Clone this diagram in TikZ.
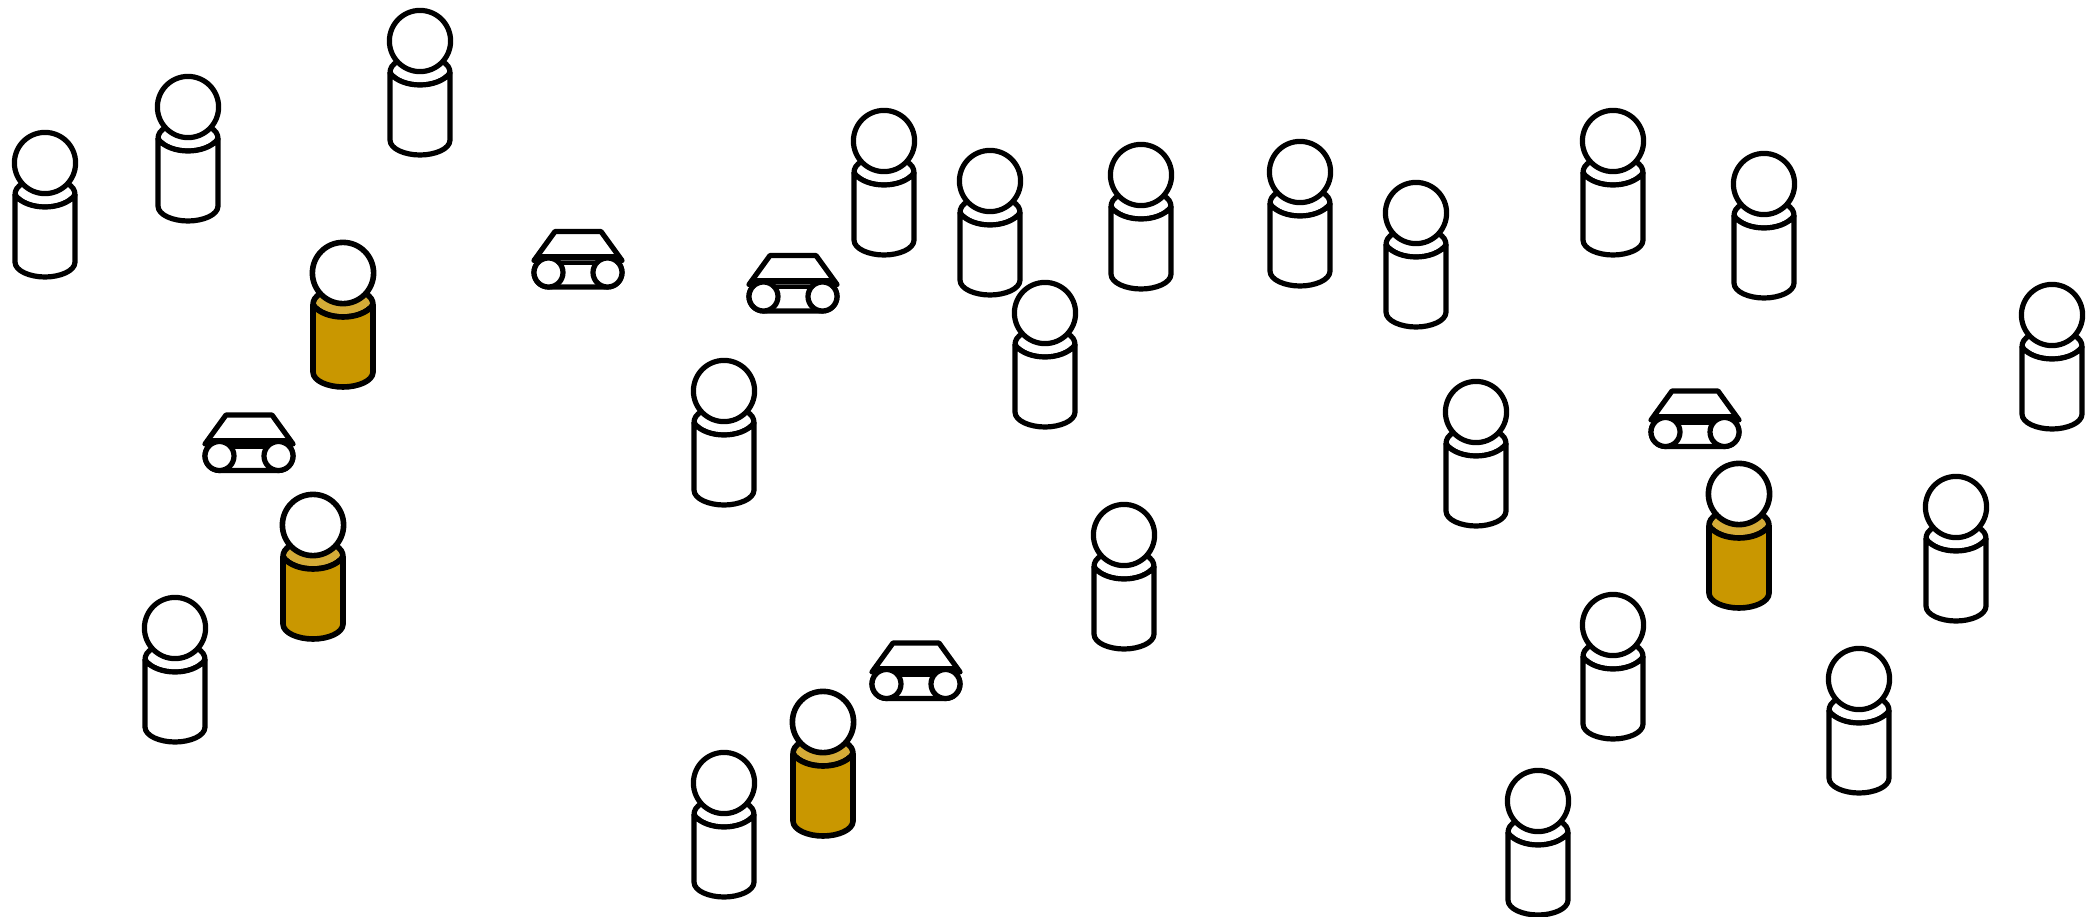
\documentclass[tikz,border=0pt]{standalone}
\definecolor{lidgold}{HTML}{D4AB37}
\definecolor{bodygold}{HTML}{C99700}
\tikzset{
  figline/.style={line width=5.2pt,draw=black,line join=round,line cap=round},
  goldline/.style={figline,line width=5.6pt},
  person/.pic={
    \path[pic actions,fill=lidc] (-30,32) .. controls (-30,27) and (-28,24) .. (-22,20) -- (22,20) .. controls (28,24) and (30,27) .. (30,32) .. controls (24,40) and (12,44) .. (0,44) .. controls (-12,44) and (-24,40) .. (-30,32) -- cycle;
    \path[pic actions,fill=bodyc] (-30,32) .. controls (-24,40) and (-12,44) .. (0,44) .. controls (12,44) and (24,40) .. (30,32) -- (30,99) .. controls (30,108) and (15,114) .. (0,114) .. controls (-15,114) and (-30,108) .. (-30,99) -- cycle;
    \path[pic actions,fill=white] (0,0) circle[radius=30.6];
  },
  vehicle/.pic={
    \path[figline,fill=white] (-44,-12) -- (-23,-41) -- (23,-41) -- (44,-12);
    \path[figline] (-40,-15.5) -- (40,-15.5);
    \path[figline,fill=white] (-29.5,-14.5) -- (29.5,-14.5) arc[start angle=-90,end angle=90,radius=14.5] -- (-29.5,14.5) arc[start angle=90,end angle=270,radius=14.5] -- cycle;
    \path[figline,line width=4.5pt] (-29.5,-9.5) -- (29.5,-9.5);
    \path[figline,fill=white] (-29.5,0) circle[radius=14.5];
    \path[figline,fill=white] (29.5,0) circle[radius=14.5];
  }
}
\begin{document}
\begin{tikzpicture}[x=1pt,y=-1pt]
\useasboundingbox (0,0) rectangle (2091,916);
\colorlet{lidc}{white}\colorlet{bodyc}{white}
\foreach \hx/\hy in {45/163,188/107,420/41,884/141,990/181,1141/175,1300/172,1416/213,1613/141,1764/184,1045/313,2052/315,724/391,1476/412,1956/507,1124/535,175/628,1613/625,1859/679,724/783,1538/801}
  \pic[figline] at (\hx,\hy) {person};
\colorlet{lidc}{lidgold}\colorlet{bodyc}{bodygold}
\foreach \hx/\hy in {343/273,313/525,1739/494,823/722}
  \pic[goldline] at (\hx,\hy) {person};
\foreach \vx/\vy in {578/272.5,793/296.5,249/456,1695/432,916/684}
  \pic at (\vx,\vy) {vehicle};
\end{tikzpicture}
\end{document}
